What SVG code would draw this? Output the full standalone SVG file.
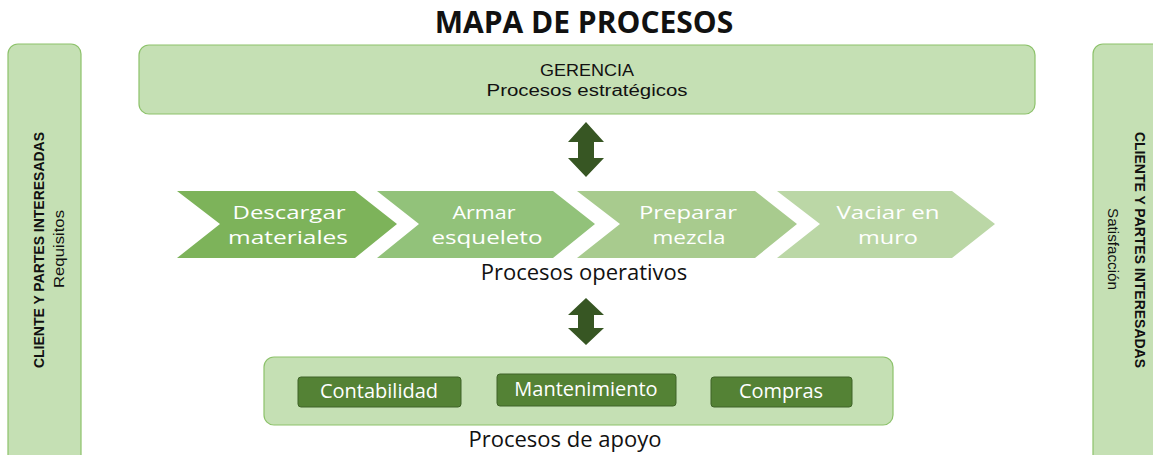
<svg xmlns="http://www.w3.org/2000/svg" width="1153" height="455" viewBox="0 0 1153 455">
<style>
.box{fill:#C5E0B4;stroke:#8DC26B;stroke-width:1.2}
.sub{fill:#548235;stroke:#3F6328;stroke-width:1}
.t{font-family:"Open Sans","Liberation Sans",sans-serif;fill:#111}
.w{font-family:"Open Sans","Liberation Sans",sans-serif;fill:#fff;font-size:18.5px;text-anchor:middle}
.s{font-family:"Open Sans","Liberation Sans",sans-serif;fill:#fff;font-size:20px;text-anchor:middle}
.c{font-family:"Liberation Sans","Open Sans",sans-serif;fill:#111}
.arr{fill:#375623}
</style>
<rect width="1153" height="455" fill="#fff"/>
<text class="t" x="584" y="33" font-size="30" font-weight="bold" text-anchor="middle">MAPA DE PROCESOS</text>

<g id="cliente-requisitos">
<rect class="box" x="8" y="44" width="73" height="430" rx="10"/>
<text class="c" transform="translate(44,250) rotate(-90)" font-size="15" font-weight="bold" text-anchor="middle" textLength="236" lengthAdjust="spacingAndGlyphs">CLIENTE Y PARTES INTERESADAS</text>
<text class="c" transform="translate(64,249) rotate(-90)" font-size="15" text-anchor="middle" textLength="78" lengthAdjust="spacingAndGlyphs">Requisitos</text>
</g>

<g id="cliente-satisfaccion">
<rect class="box" x="1093" y="44" width="90" height="430" rx="10"/>
<text class="c" transform="translate(1135,250) rotate(90)" font-size="15" font-weight="bold" text-anchor="middle" textLength="236" lengthAdjust="spacingAndGlyphs">CLIENTE Y PARTES INTERESADAS</text>
<text class="c" transform="translate(1108,249) rotate(90)" font-size="15" text-anchor="middle" textLength="82" lengthAdjust="spacingAndGlyphs">Satisfacción</text>
</g>

<g id="gerencia">
<rect class="box" x="139" y="45" width="896" height="69" rx="10"/>
<text class="c" x="587" y="76" font-size="16" text-anchor="middle" textLength="94" lengthAdjust="spacingAndGlyphs">GERENCIA</text>
<text class="c" x="587" y="96" font-size="16" text-anchor="middle" textLength="201" lengthAdjust="spacingAndGlyphs">Procesos estratégicos</text>
</g>

<g id="connectors">
<polygon class="arr" points="586,122 604,142 594,142 594,158 604,158 586,177 568,158 578,158 578,142 568,142"/>
<polygon class="arr" points="586,298 604,315 594,315 594,328 604,328 586,345 568,328 578,328 578,315 568,315"/>
</g>

<g id="descargar">
<polygon points="177,191 355,191 397,224 355,258 177,258 220,224" fill="#7DB35A"/>
<text class="w" x="289" y="218.5" textLength="113" lengthAdjust="spacingAndGlyphs">Descargar</text>
<text class="w" x="288" y="244" textLength="120" lengthAdjust="spacingAndGlyphs">materiales</text>
</g>
<g id="armar">
<polygon points="377,191 553,191 595,224 553,258 377,258 419,224" fill="#92C27A"/>
<text class="w" x="484" y="218.5" textLength="63" lengthAdjust="spacingAndGlyphs">Armar</text>
<text class="w" x="487" y="244" textLength="111" lengthAdjust="spacingAndGlyphs">esqueleto</text>
</g>
<g id="preparar">
<polygon points="577,191 755,191 797,224 755,258 577,258 620,224" fill="#A8CB8E"/>
<text class="w" x="688" y="218.5" textLength="98" lengthAdjust="spacingAndGlyphs">Preparar</text>
<text class="w" x="689" y="244" textLength="73" lengthAdjust="spacingAndGlyphs">mezcla</text>
</g>
<g id="vaciar">
<polygon points="777,191 952,191 995,224 952,258 777,258 820,224" fill="#BBD7A6"/>
<text class="w" x="888" y="218.5" textLength="103" lengthAdjust="spacingAndGlyphs">Vaciar en</text>
<text class="w" x="888" y="244" textLength="60" lengthAdjust="spacingAndGlyphs">muro</text>
</g>
<text class="t" x="584" y="280" font-size="22" text-anchor="middle">Procesos operativos</text>

<g id="apoyo">
<rect class="box" x="264" y="357" width="629" height="68" rx="10"/>
</g>
<g id="contabilidad">
<rect class="sub" x="298" y="377" width="163" height="30" rx="3"/>
<text class="s" x="379" y="398">Contabilidad</text>
</g>
<g id="mantenimiento">
<rect class="sub" x="497" y="374" width="179" height="32" rx="3"/>
<text class="s" x="586" y="396">Mantenimiento</text>
</g>
<g id="compras">
<rect class="sub" x="711" y="377" width="141" height="30" rx="3"/>
<text class="s" x="781" y="398">Compras</text>
</g>
<text class="t" x="565" y="447" font-size="22" text-anchor="middle">Procesos de apoyo</text>
</svg>
